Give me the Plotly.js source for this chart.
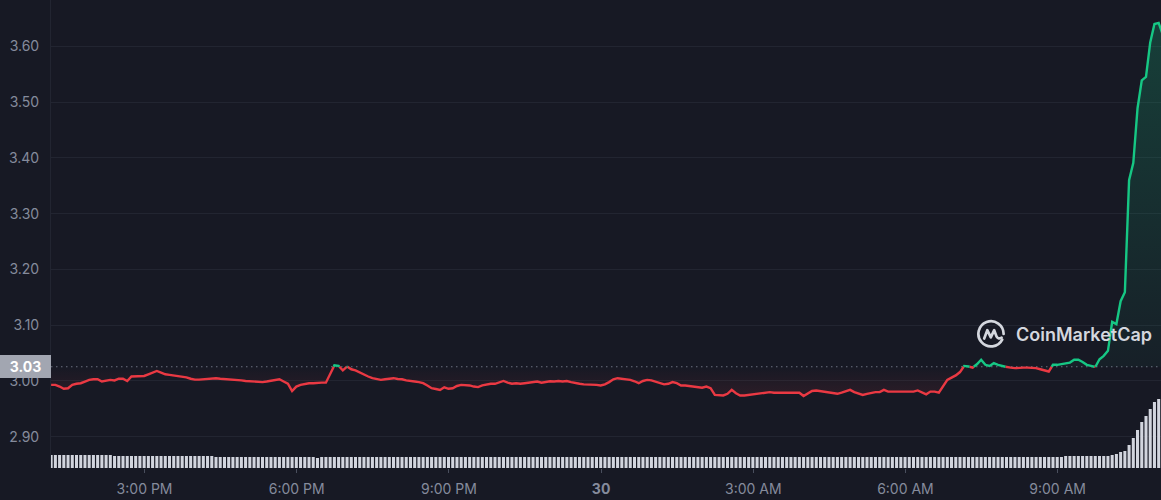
<!DOCTYPE html>
<html>
<head>
<meta charset="utf-8">
<script src="https://cdn.plot.ly/plotly-3.0.1.min.js"></script>
<style>
  html, body { margin: 0; padding: 0; background: #171924; }
  #chart { width: 1161px; height: 500px; }
</style>
</head>
<body>
<div id="chart"></div>
<script>
// ---------------- DATA ----------------
// 5-minute samples starting 2024-03-29 13:09:30
const startTime = Date.UTC(2024, 2, 29, 13, 9, 30);
const stepMinutes = 5;

// price (USD)
const prices = [
  2.993, 2.993, 2.990, 2.986, 2.987, 2.993, 2.995, 2.996, 2.999, 3.002, 3.003, 3.003,
  2.999, 3.001, 3.002, 3.001, 3.004, 3.004, 3.000, 3.008, 3.008, 3.008, 3.009, 3.012,
  3.015, 3.018, 3.015, 3.012, 3.011, 3.010, 3.0095, 3.008, 3.0066, 3.004, 3.0024, 3.0024,
  3.003, 3.0036, 3.004, 3.005, 3.004, 3.0036, 3.003, 3.0024, 3.0024, 3.001, 3.000, 2.9995,
  2.999, 2.998, 2.998, 2.999, 3.000, 3.002, 3.003, 2.999, 2.995, 2.982, 2.990, 2.993,
  2.995, 2.996, 2.996, 2.997, 2.997, 2.997, 3.011, 3.028, 3.027, 3.019, 3.026, 3.021,
  3.019, 3.015, 3.012, 3.008, 3.005, 3.003, 3.002, 3.003, 3.004, 3.005, 3.0036, 3.003,
  3.001, 2.9995, 2.999, 2.998, 2.996, 2.992, 2.987, 2.9857, 2.984, 2.9887, 2.986, 2.987,
  2.991, 2.993, 2.993, 2.992, 2.990, 2.989, 2.992, 2.994, 2.995, 2.995, 2.998, 3.000,
  2.997, 2.995, 2.996, 2.995, 2.996, 2.997, 2.998, 2.999, 2.997, 2.998, 2.9995, 2.999,
  3.000, 2.999, 3.000, 2.998, 2.996, 2.995, 2.994, 2.994, 2.9935, 2.993, 2.992, 2.994,
  2.998, 3.003, 3.005, 3.004, 3.0036, 3.002, 2.9995, 2.996, 3.000, 3.002, 3.001, 2.999,
  2.996, 2.994, 2.995, 2.998, 2.996, 2.992, 2.992, 2.991, 2.989, 2.988, 2.988, 2.990,
  2.987, 2.975, 2.974, 2.974, 2.977, 2.984, 2.978, 2.974, 2.974, 2.975, 2.976, 2.977,
  2.979, 2.980, 2.980, 2.979, 2.979, 2.980, 2.980, 2.979, 2.980, 2.979, 2.973, 2.978,
  2.982, 2.983, 2.982, 2.981, 2.980, 2.979, 2.977, 2.979, 2.982, 2.984, 2.980, 2.978,
  2.975, 2.977, 2.979, 2.980, 2.980, 2.984, 2.981, 2.981, 2.981, 2.982, 2.982, 2.981,
  2.981, 2.983, 2.979, 2.976, 2.981, 2.981, 2.979, 2.991, 3.002, 3.006, 3.010, 3.016,
  3.027, 3.026, 3.024, 3.030, 3.038, 3.029, 3.027, 3.032, 3.029, 3.027, 3.025, 3.024,
  3.023, 3.024, 3.024, 3.024, 3.024, 3.023, 3.021, 3.019, 3.017, 3.029, 3.029, 3.030,
  3.031, 3.033, 3.038, 3.038, 3.034, 3.029, 3.027, 3.025, 3.039, 3.045, 3.054, 3.106,
  3.102, 3.143, 3.159, 3.360, 3.391, 3.489, 3.539, 3.545, 3.607, 3.640, 3.642, 3.620
];

// volume per 5 minutes (thousands USD)
const volumes = [
  650, 650, 650, 650, 650, 650, 650, 650, 650, 650, 650, 650,
  650, 650, 650, 600, 600, 600, 600, 600, 600, 600, 600, 600,
  600, 600, 600, 600, 600, 600, 600, 600, 600, 600, 600, 600,
  600, 600, 600, 550, 550, 550, 550, 550, 550, 550, 550, 550,
  550, 550, 550, 550, 550, 550, 550, 550, 550, 550, 550, 550,
  550, 550, 550, 500, 550, 550, 550, 550, 550, 550, 550, 550,
  550, 550, 550, 550, 550, 550, 550, 550, 550, 550, 550, 550,
  550, 550, 550, 550, 550, 550, 550, 550, 550, 550, 550, 550,
  550, 550, 550, 550, 550, 550, 550, 550, 550, 550, 550, 550,
  550, 550, 550, 550, 550, 550, 550, 550, 550, 550, 550, 550,
  550, 550, 550, 550, 550, 550, 550, 550, 550, 550, 550, 550,
  550, 550, 550, 550, 550, 550, 550, 550, 550, 550, 550, 550,
  550, 550, 550, 550, 550, 550, 550, 550, 550, 550, 550, 550,
  550, 550, 550, 550, 550, 550, 550, 550, 550, 550, 550, 550,
  550, 550, 550, 550, 550, 550, 550, 550, 550, 550, 550, 550,
  550, 550, 550, 550, 550, 550, 550, 550, 550, 550, 550, 550,
  550, 550, 550, 550, 550, 550, 550, 550, 550, 550, 550, 550,
  550, 550, 550, 550, 550, 550, 550, 550, 550, 550, 550, 550,
  550, 550, 550, 550, 550, 550, 550, 550, 550, 550, 550, 550,
  550, 550, 550, 550, 550, 550, 550, 550, 550, 550, 550, 550,
  600, 600, 600, 600, 600, 600, 600, 600, 600, 600, 600, 650,
  700, 800, 850, 1150, 1500, 1900, 2300, 2600, 2950, 3300, 3450, 3550
];

// reference (opening) price shown as dotted line
const baselinePrice = 3.0255;

// axis ticks
const yTickValues = [2.90, 3.00, 3.10, 3.20, 3.30, 3.40, 3.50, 3.60];
const xTickTimes = ['2024-03-29 15:00', '2024-03-29 18:00', '2024-03-29 21:00',
                    '2024-03-30 00:00', '2024-03-30 03:00', '2024-03-30 06:00', '2024-03-30 09:00'];
const xTickLabels = ['3:00 PM', '6:00 PM', '9:00 PM', '<b>30</b>', '3:00 AM', '6:00 AM', '9:00 AM'];
const xRange = ['2024-03-29 13:09:20', '2024-03-30 11:02:15'];
const priceRange = [2.844, 3.683];
const volumeRange = [0, 23400];

// ---------------- BUILD ----------------
const times = prices.map((_, i) => startTime + i * stepMinutes * 60000);

// insert baseline crossing points so colour/fill can switch exactly at baseline
const ax = [], ay = [];
for (let i = 0; i < prices.length; i++) {
  ax.push(times[i]); ay.push(prices[i]);
  if (i < prices.length - 1) {
    const a = prices[i] - baselinePrice, b = prices[i + 1] - baselinePrice;
    if (a * b < 0) {
      const f = (baselinePrice - prices[i]) / (prices[i + 1] - prices[i]);
      ax.push(times[i] + f * (times[i + 1] - times[i]));
      ay.push(baselinePrice);
    }
  }
}
const upLine = ay.map(v => v >= baselinePrice ? v : null);
const downLine = ay.map(v => v <= baselinePrice ? v : null);
const upFill = ay.map(v => Math.max(v, baselinePrice));
const downFill = ay.map(v => Math.min(v, baselinePrice));
const baseArr = ay.map(() => baselinePrice);
const maxP = Math.max(...prices), minP = Math.min(...prices);

const GREEN = '#16c784', RED = '#ea3943';

const traces = [
  { type: 'bar', x: times, y: volumes, yaxis: 'y2',
    marker: { color: '#d2d5de', line: { width: 0 } }, hoverinfo: 'skip' },
  { type: 'scatter', mode: 'lines', x: ax, y: baseArr, line: { width: 0 }, hoverinfo: 'skip' },
  { type: 'scatter', mode: 'lines', x: ax, y: upFill, line: { width: 0 }, fill: 'tonexty',
    fillcolor: 'rgba(22,199,132,0.15)',
    fillgradient: { type: 'vertical', start: baselinePrice, stop: maxP,
      colorscale: [[0, 'rgba(22,199,132,0.04)'], [1, 'rgba(22,199,132,0.22)']] },
    hoverinfo: 'skip' },
  { type: 'scatter', mode: 'lines', x: ax, y: baseArr, line: { width: 0 }, hoverinfo: 'skip' },
  { type: 'scatter', mode: 'lines', x: ax, y: downFill, line: { width: 0 }, fill: 'tonexty',
    fillcolor: 'rgba(234,57,67,0.05)',
    fillgradient: { type: 'vertical', start: minP, stop: baselinePrice,
      colorscale: [[0, 'rgba(234,57,67,0.10)'], [1, 'rgba(234,57,67,0.0)']] },
    hoverinfo: 'skip' },
  { type: 'scatter', mode: 'lines', x: ax, y: downLine, connectgaps: false,
    line: { color: RED, width: 2.4 }, hoverinfo: 'skip' },
  { type: 'scatter', mode: 'lines', x: ax, y: upLine, connectgaps: false,
    line: { color: GREEN, width: 2.4 }, hoverinfo: 'skip' }
];

const tickFont = { family: 'Inter, "Open Sans", sans-serif', size: 14, color: '#858b9c' };

const logoSvg = "<svg xmlns='http://www.w3.org/2000/svg' width='30' height='30' viewBox='0 0 30 30'>" +
  "<path d='M26.2 20.6 A12.6 12.6 0 1 1 27.6 15' fill='none' stroke='#d4d7de' stroke-width='2.7' stroke-linecap='round'/>" +
  "<path d='M8.2 19.5 L11.3 11.2 L14.8 18.4 L18.2 11.2 L20.6 17.6 Q22.3 20.6 25.6 18.6' fill='none' stroke='#d4d7de' stroke-width='2.7' stroke-linecap='round' stroke-linejoin='round'/>" +
  "</svg>";

const layout = {
  width: 1161, height: 500,
  margin: { l: 51, r: 0, t: 0, b: 32, pad: 0 },
  paper_bgcolor: '#171924',
  plot_bgcolor: '#171924',
  showlegend: false,
  hovermode: false,
  bargap: 0.28,
  xaxis: {
    type: 'date', range: xRange,
    tickmode: 'array', tickvals: xTickTimes, ticktext: xTickLabels,
    showgrid: false, zeroline: false, showline: false,
    ticks: 'outside', ticklen: 4, tickwidth: 1, tickcolor: '#4a4f5e',
    tickfont: tickFont, ticklabelstandoff: 4, fixedrange: true
  },
  yaxis: {
    range: priceRange,
    tickmode: 'array', tickvals: yTickValues, ticktext: yTickValues.map(v => v.toFixed(2)),
    showgrid: true, gridcolor: '#222531', gridwidth: 1,
    zeroline: false, showline: true, linecolor: '#222531', linewidth: 1,
    ticks: '', tickfont: tickFont, ticklabelstandoff: 8, fixedrange: true
  },
  yaxis2: {
    overlaying: 'y', range: volumeRange, showgrid: false, showticklabels: false,
    zeroline: false, showline: false, ticks: '', fixedrange: true
  },
  shapes: [
    { type: 'line', xref: 'paper', x0: 0, x1: 1, yref: 'y', y0: baselinePrice, y1: baselinePrice,
      line: { color: '#6c717f', width: 1, dash: '1.5px,3.5px' }, layer: 'below' }
  ],
  annotations: [
    { xref: 'paper', x: 0, xanchor: 'right', yref: 'y', y: baselinePrice, yanchor: 'middle',
      text: '<b>' + baselinePrice.toFixed(2) + '</b>', showarrow: false,
      bgcolor: '#a2a6b1', borderwidth: 0, borderpad: 0, width: 51, height: 23, align: 'center',
      font: { family: 'Inter, "Open Sans", sans-serif', size: 14, color: '#ffffff' } },
    { xref: 'paper', x: (1014 - 51) / 1110, xanchor: 'left', yref: 'paper', y: 1 - 334 / 468, yanchor: 'middle',
      text: 'CoinMarketCap', showarrow: false,
      font: { family: 'Inter, "Open Sans", sans-serif', size: 18, weight: 600, color: '#d4d7de' } }
  ],
  images: [
    { source: 'data:image/svg+xml;utf8,' + encodeURIComponent(logoSvg),
      xref: 'paper', yref: 'paper', x: (976 - 51) / 1110, y: 1 - 319 / 468,
      sizex: 30 / 1110, sizey: 30 / 468, xanchor: 'left', yanchor: 'top',
      sizing: 'contain', layer: 'above' }
  ]
};

Plotly.newPlot('chart', traces, layout, { displayModeBar: false, staticPlot: true });
</script>
</body>
</html>
